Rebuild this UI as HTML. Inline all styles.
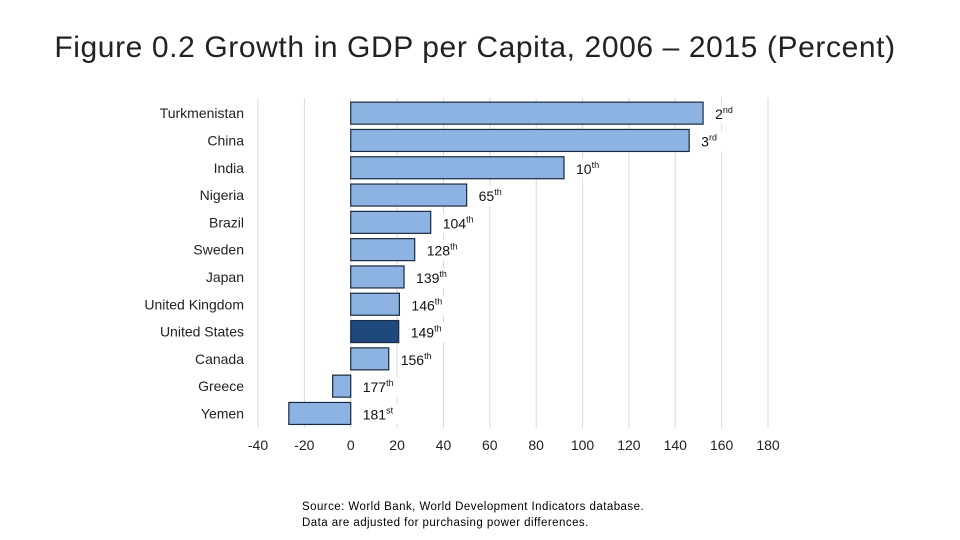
<!DOCTYPE html>
<html><head><meta charset="utf-8"><style>
body{margin:0;background:#fff;width:960px;height:540px;overflow:hidden;font-family:"Liberation Sans",Arial,sans-serif}
#title{position:absolute;left:0;width:950px;top:31px;text-align:center;font-size:30px;color:#222;letter-spacing:0.6px;white-space:nowrap}
#source{position:absolute;left:302px;top:499px;font-size:11.5px;line-height:16px;color:#000;letter-spacing:0.45px}
svg{position:absolute;left:0;top:0}
</style></head><body>
<div id="title">Figure 0.2 Growth in GDP per Capita, 2006 – 2015 (Percent)</div>
<svg id="chart" width="960" height="540"></svg>
<div id="source">Source: World Bank, World Development Indicators database.<br>Data are adjusted for purchasing power differences.</div>
<script>
const categories=["Turkmenistan","China","India","Nigeria","Brazil","Sweden","Japan","United Kingdom","United States","Canada","Greece","Yemen"];
const values=[152,146,92,50,34.5,27.6,23,21,20.7,16.4,-7.8,-26.7];
const rankNums=["2","3","10","65","104","128","139","146","149","156","177","181"];
const rankSuffix=["nd","rd","th","th","th","th","th","th","th","th","th","st"];
const ticks=[-40,-20,0,20,40,60,80,100,120,140,160,180];
const highlight="United States";
const svg=document.getElementById('chart');
const NS="http://www.w3.org/2000/svg";
const x0=258,x1=768,vmin=-40,vmax=180;
const X=v=>x0+(v-vmin)*(x1-x0)/(vmax-vmin);
const rowTop=99.5,rowH=27.3,barH=22;
const Y=i=>rowTop+i*rowH;
function mk(t,a){const e=document.createElementNS(NS,t);for(const k in a)e.setAttribute(k,a[k]);svg.appendChild(e);return e;}
ticks.forEach(t=>{
 const g=mk('line',{x1:X(t),x2:X(t),y1:98,y2:428,stroke:'#d9d9d9','stroke-width':1});
 
 
 const l=mk('text',{x:X(t),y:450,'text-anchor':'middle','font-size':14,fill:'#222'});
 l.textContent=t;
 
 
});
categories.forEach((c,i)=>{
 const v=values[i];
 const top=Y(i)+(rowH-barH)/2;
 const xa=X(Math.min(0,v)),xb=X(Math.max(0,v));
 const r=mk('rect',{x:xa,y:top,width:xb-xa,height:barH,fill:c===highlight?'#1f497d':'#8db3e2',stroke:'#1a2a40','stroke-width':1.2});
 
 
 const lab=mk('text',{x:244,y:top+barH/2+5,'text-anchor':'end','font-size':14,fill:'#222'});
 lab.textContent=c;
 
 
 const rx=(v>0?X(v):X(0))+12;
 const bg=mk('rect',{x:rx-3,y:top+2,width:40,height:20,fill:'#fff'});
 
 
 const rt=mk('text',{x:rx,y:top+barH/2+6,'font-size':14,fill:'#111'});
 
 
 rt.textContent=rankNums[i];
 const sp=document.createElementNS(NS,'tspan');
 sp.setAttribute('font-size','9');sp.setAttribute('dy','-6');
 sp.textContent=rankSuffix[i];
 rt.appendChild(sp);
});
</script>
</body></html>
